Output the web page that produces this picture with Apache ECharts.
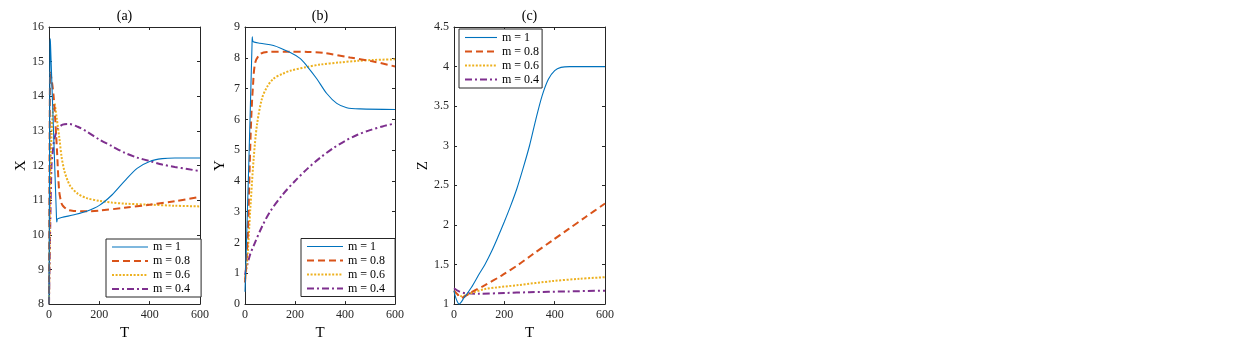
<!DOCTYPE html>
<html><head><meta charset="utf-8">
<script src="https://cdn.jsdelivr.net/npm/echarts@6/dist/echarts.min.js"></script>
<style>html,body{margin:0;padding:0;background:#fff}#c{width:1246px;height:346px}</style>
</head><body><div id="c"></div>
<script>
const seriesNames = ['m = 1', 'm = 0.8', 'm = 0.6', 'm = 0.4'];
const panelTitles = ['(a)', '(b)', '(c)'];
const yNames = ['X', 'Y', 'Z'];
const xName = 'T';

// Panel (a): X vs T  ([T, X])
const aM1 = [[0,8],[4,15.45],[5,15.66],[6,15.5],[18,13.0],[30,10.45],[31,10.37],[32,10.42],[34,10.46],[50,10.5],[100,10.58],[150,10.68],[200,10.85],[250,11.15],[300,11.55],[350,11.92],[400,12.12],[450,12.2],[500,12.22],[600,12.22]];
const aM08 = [[0,8],[2,12],[4,14.6],[5,14.69],[7,14.62],[12,14.4],[18,14.03],[25,13.3],[32,12.4],[40,11.3],[48,10.95],[55,10.84],[75,10.72],[100,10.69],[150,10.68],[200,10.7],[300,10.78],[400,10.87],[500,10.97],[600,11.1]];
const aM06 = [[0,8],[5,11.5],[10,12.9],[15,13.5],[21,13.8],[30,13.4],[41,12.8],[50,12.25],[61,11.85],[75,11.55],[87,11.38],[114,11.19],[150,11.06],[200,10.98],[250,10.93],[300,10.9],[400,10.87],[500,10.84],[600,10.82]];
const aM04 = [[0,8],[5,10.3],[10,12.0],[15,12.4],[21,12.75],[34,13.05],[54,13.18],[80,13.2],[114,13.12],[150,12.98],[200,12.75],[250,12.56],[300,12.37],[350,12.23],[400,12.13],[450,12.03],[500,11.96],[550,11.9],[600,11.84]];

// Panel (b): Y vs T
const bM1 = [[0,0.4],[15,4.5],[28,8.4],[29,8.68],[30,8.6],[33,8.52],[60,8.47],[114,8.4],[181,8.17],[220,7.98],[247,7.74],[287,7.32],[327,6.84],[367,6.52],[407,6.38],[460,6.34],[600,6.32]];
const bM08 = [[0,0.7],[2,0.93],[11,2.2],[19,4.55],[25,6.04],[32,7.1],[41,7.85],[61,8.12],[88,8.19],[181,8.2],[250,8.19],[314,8.16],[420,8.01],[513,7.88],[600,7.72]];
const bM06 = [[0,0.8],[5,1.1],[11,1.67],[21,3.06],[35,4.76],[48,5.83],[68,6.68],[88,7.05],[114,7.32],[150,7.48],[181,7.58],[247,7.7],[300,7.78],[380,7.85],[450,7.9],[513,7.93],[600,7.95]];
const bM04 = [[0,0.95],[5,1.15],[10,1.3],[20,1.6],[40,2.0],[70,2.55],[100,3.0],[150,3.55],[200,4.0],[250,4.4],[300,4.75],[350,5.05],[400,5.3],[450,5.5],[500,5.65],[550,5.77],[600,5.87]];

// Panel (c): Z vs T
const cM1 = [[0,1.17],[5,1.1],[12,1.04],[20,1.0],[40,1.08],[69,1.21],[100,1.38],[123,1.5],[150,1.67],[175,1.85],[200,2.04],[225,2.24],[250,2.46],[275,2.72],[300,3.0],[325,3.33],[350,3.63],[375,3.84],[400,3.95],[425,3.99],[460,4.0],[600,4.0]];
const cM08 = [[0,1.17],[15,1.12],[28,1.08],[69,1.15],[123,1.24],[189,1.36],[257,1.5],[309,1.62],[389,1.8],[456,1.95],[523,2.1],[600,2.27]];
const cM06 = [[0,1.15],[15,1.12],[30,1.1],[60,1.13],[123,1.19],[256,1.24],[389,1.29],[500,1.32],[600,1.34]];
const cM04 = [[0,1.2],[20,1.16],[43,1.14],[100,1.13],[200,1.14],[300,1.15],[450,1.16],[600,1.17]];

const xMin = 0, xMax = 600, xStep = 200;
const yRanges = [[8, 16, 1], [0, 9, 1], [1, 4.5, 0.5]];
const panelData = [[aM1, aM08, aM06, aM04], [bM1, bM08, bM06, bM04], [cM1, cM08, cM06, cM04]];

// styles
const colors = ['#0072BD', '#D95319', '#EDB120', '#7E2F8E'];
const widths = [1.1, 2, 2, 2];
const dashes = ['solid', [7, 4], [2, 1.6], [7, 3, 2, 3]];
const FONT = '"Liberation Serif", "Times New Roman", serif';
const AX = '#262626';

const grids = [
  {left: 49, top: 27, width: 151, height: 281},
  {left: 245, top: 27, width: 150, height: 281},
  {left: 454, top: 27, width: 151, height: 281}
];
const yNameGaps = [19, 17, 18];

const xAxes = [], yAxes = [], series = [], legends = [], graphics = [];
grids.forEach((g, i) => {
  const base = {
    axisLine: {show: true, onZero: false, lineStyle: {color: AX, width: 1}},
    axisTick: {show: true, inside: true, length: 3, lineStyle: {color: AX, width: 1}},
    splitLine: {show: false},
    axisLabel: {color: AX, fontFamily: FONT, fontSize: 12, margin: 5}
  };
  xAxes.push(Object.assign({}, base, {
    type: 'value', gridIndex: i, position: 'bottom', min: xMin, max: xMax, interval: xStep,
    name: xName, nameLocation: 'middle', nameGap: 11,
    nameTextStyle: {fontFamily: FONT, fontSize: 15, color: '#000'}
  }));
  xAxes.push(Object.assign({}, base, {
    type: 'value', gridIndex: i, position: 'top', min: xMin, max: xMax, interval: xStep,
    axisLabel: {show: false}
  }));
  const [ymin, ymax, yint] = yRanges[i];
  yAxes.push(Object.assign({}, base, {
    type: 'value', gridIndex: i, position: 'left', min: ymin, max: ymax, interval: yint,
    name: yNames[i], nameLocation: 'middle', nameGap: yNameGaps[i], nameRotate: 90,
    nameTextStyle: {fontFamily: FONT, fontSize: 15, color: '#000'}
  }));
  yAxes.push(Object.assign({}, base, {
    type: 'value', gridIndex: i, position: 'right', min: ymin, max: ymax, interval: yint,
    axisLabel: {show: false}
  }));
  panelData[i].forEach((d, k) => {
    series.push({
      type: 'line', name: seriesNames[k], data: d,
      xAxisIndex: 2 * i, yAxisIndex: 2 * i,
      symbol: 'none', showSymbol: false, smooth: 0.3,
      lineStyle: {color: colors[k], width: widths[k], type: dashes[k], cap: 'butt'},
      itemStyle: {color: colors[k]},
      z: 10 - k
    });
  });
  graphics.push({
    type: 'text', x: g.left + g.width / 2, y: 16.5,
    style: {text: panelTitles[i], align: 'center', verticalAlign: 'middle',
            fontFamily: FONT, fontSize: 14, fill: '#000'}
  });
});

const legendPos = [
  {left: 106, top: 239, itemWidth: 36, padding: [1.5, 11, 1.5, 5]},
  {left: 301, top: 238.5, itemWidth: 36, padding: [1.5, 10, 1.5, 5]},
  {left: 459, top: 29, itemWidth: 32, padding: [2, 3, 2, 5]}
];
legendPos.forEach(p => {
  legends.push({
    show: true, orient: 'vertical', left: p.left, top: p.top,
    itemWidth: p.itemWidth, itemHeight: 12, itemGap: 1, padding: p.padding,
    backgroundColor: '#fff', borderColor: AX, borderWidth: 1, borderRadius: 0,
    selectedMode: false,
    data: seriesNames.map((n, k) => ({
      name: n,
      itemStyle: {opacity: 0, color: 'transparent', borderWidth: 0},
      lineStyle: {color: colors[k], width: widths[k], type: dashes[k], cap: 'butt'}
    })),
    textStyle: {fontFamily: FONT, fontSize: 12, color: '#000', lineHeight: 13}
  });
});

const chart = echarts.init(document.getElementById('c'), null, {renderer: 'canvas'});
chart.setOption({
  backgroundColor: '#fff',
  animation: false,
  grid: grids.map(g => Object.assign({show: false, containLabel: false}, g)),
  xAxis: xAxes,
  yAxis: yAxes,
  legend: legends,
  series: series,
  graphic: graphics
});
</script>
</body></html>
